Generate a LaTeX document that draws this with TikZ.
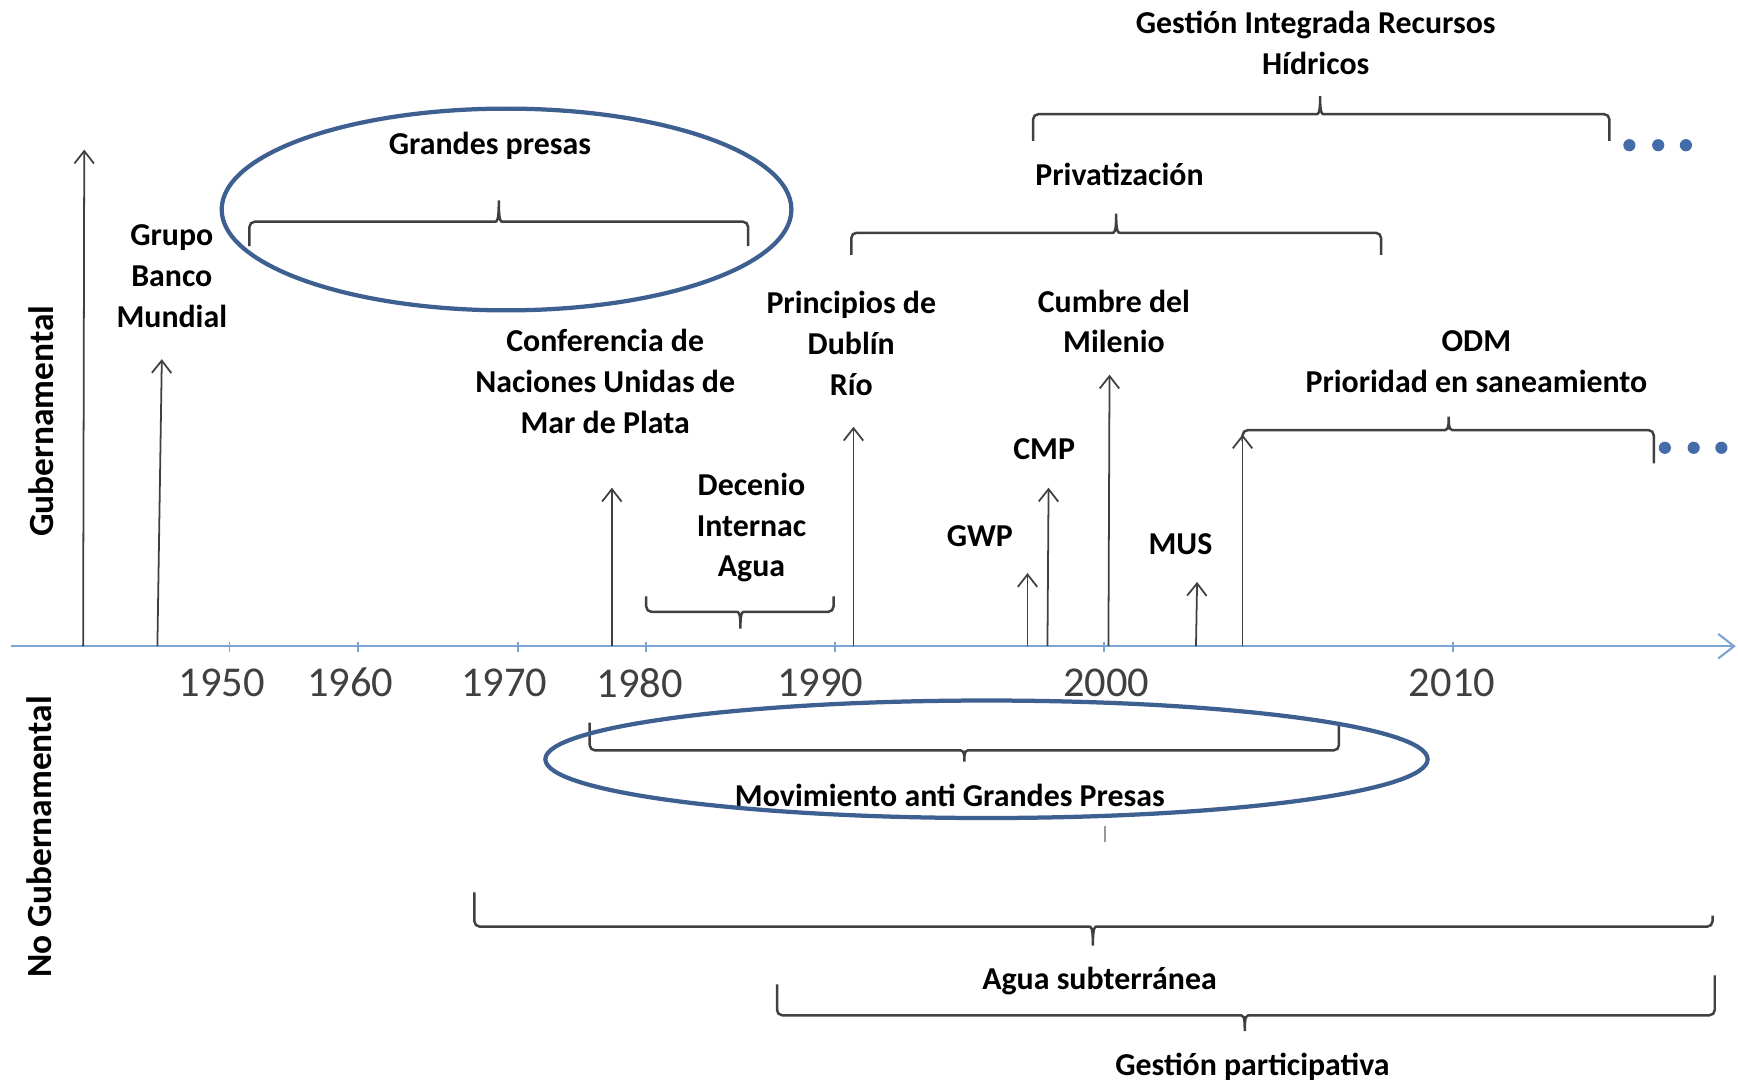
\documentclass[tikz,border=0pt]{standalone}
\usepackage{fontspec}
\setmainfont{Carlito}
\usetikzlibrary{arrows.meta}
\definecolor{axisblue}{RGB}{125,165,210}
\definecolor{ringblue}{RGB}{62,96,145}
\definecolor{dotblue}{RGB}{68,108,168}
\tikzset{
  lbl/.style={font=\fontsize{18}{23}\selectfont\bfseries, align=center, inner sep=1pt},
  side/.style={font=\fontsize{20}{23}\selectfont\bfseries, rotate=90, inner sep=1pt},
  yr/.style={font=\fontsize{24}{24}\selectfont, text=black!75},
  evt/.style={draw=black!75, line width=1pt, -{Straight Barb[length=7pt,width=11pt]}},
  brc/.style={draw=black!75, line width=1.4pt, rounded corners=3pt},
  ring/.style={draw=ringblue, line width=2.4pt},
}
% x1, y1, x2, y2, tip x, main line y, tip y
\newcommand{\tlbrace}[7]{%
  \draw[brc] (#1,#2) -- (#1,#6) -- (#5-8,#6) .. controls (#5-2,#6) and (#5,#6) .. (#5,#7)
    .. controls (#5,#6) and (#5+2,#6) .. (#5+8,#6) -- (#3,#6) -- (#3,#4);}

\begin{document}
\begin{tikzpicture}[x=0.022cm, y=-0.022cm]
\useasboundingbox (0,0) rectangle (1568,979);

\coordinate (axL) at (10,583);
\coordinate (axR) at (1566,583);
\draw[axisblue, line width=1.2pt, -{Straight Barb[length=9pt,width=14pt]}] (axL) -- (axR);
\foreach \t/\l/\yr in {207/200/1950, 323/316/1960, 467/455/1970, 583/577/1980, 753/740/1990, 996/998/2000, 1311/1310/2010}{
  \draw[axisblue, line width=1pt] (\t,579) -- (\t,588);
  \node[yr] (y\yr) at (\l,616) {\yr};
}

\node[side] (gob) at (37,380) {Gubernamental};
\node[side] (nogob) at (35,755) {No Gubernamental};

\node[lbl] (girh) at (1187,39) {Gestión Integrada Recursos\\Hídricos};
\node[lbl] (priv) at (1010,157) {Privatización};
\node[lbl] (presas) at (442,132) {Grandes presas};
\node[lbl] (bm) at (155,249) {Grupo\\Banco\\Mundial};
\node[lbl] (dublin) at (768,310) {Principios de\\Dublín\\Río};
\node[lbl] (cumbre) at (1005,290) {Cumbre del\\Milenio};
\node[lbl] (mdp) at (546,344) {Conferencia de\\Naciones Unidas de\\Mar de Plata};
\node[lbl] (odm) at (1332,326) {ODM\\Prioridad en saneamiento};
\node[lbl] (cmp) at (942,405) {CMP};
\node[lbl] (decenio) at (678,476) {Decenio\\Internac\\Agua};
\node[lbl] (gwp) at (884,484) {GWP};
\node[lbl] (mus) at (1065,491) {MUS};
\node[lbl] (mov) at (857,718) {Movimiento anti Grandes Presas};
\node[lbl] (subt) at (992,885) {Agua subterránea};
\node[lbl] (partic) at (1130,962) {Gestión participativa};

\coordinate (b1) at (75,583);   \coordinate (t1) at (76,135);
\coordinate (b2) at (142,583);  \coordinate (t2) at (146,324);
\coordinate (b3) at (552,583);  \coordinate (t3) at (552,440);
\coordinate (b4) at (770,583);  \coordinate (t4) at (770,385);
\coordinate (b5) at (927,583);  \coordinate (t5) at (927,517);
\coordinate (b6) at (945,583);  \coordinate (t6) at (946,440);
\coordinate (b7) at (1000,583); \coordinate (t7) at (1001,338);
\coordinate (b8) at (1079,583); \coordinate (t8) at (1080,525);
\coordinate (b9) at (1121,583); \coordinate (t9) at (1121,392);
\foreach \i in {1,...,9}
  \draw[evt] (b\i) -- (t\i);

\tlbrace{932}{127}{1452}{127}{1191}{103}{84}
\tlbrace{768}{230}{1246}{230}{1007}{210}{190}
\tlbrace{225}{222}{675}{222}{450}{200}{178}
\tlbrace{1121}{392}{1492}{418}{1307}{388}{373}
\tlbrace{583}{538}{752}{538}{668}{552}{570}
\tlbrace{532}{652}{1208}{652}{870}{677}{690}
\tlbrace{428}{805}{1545}{826}{986}{836}{856}
\tlbrace{701}{888}{1547}{880}{1123}{916}{933}

\draw[ring] (457,189) ellipse [x radius=257, y radius=91];
\draw[ring] (890,685) ellipse [x radius=398, y radius=53];

\foreach \x in {1470,1496,1521}
  \fill[dotblue] (\x,131) circle [radius=5.5];
\foreach \x in {1502,1528,1553}
  \fill[dotblue] (\x,404) circle [radius=5.5];

\draw[black!40, line width=0.8pt] (997,745) -- (997,760);
\end{tikzpicture}
\end{document}
